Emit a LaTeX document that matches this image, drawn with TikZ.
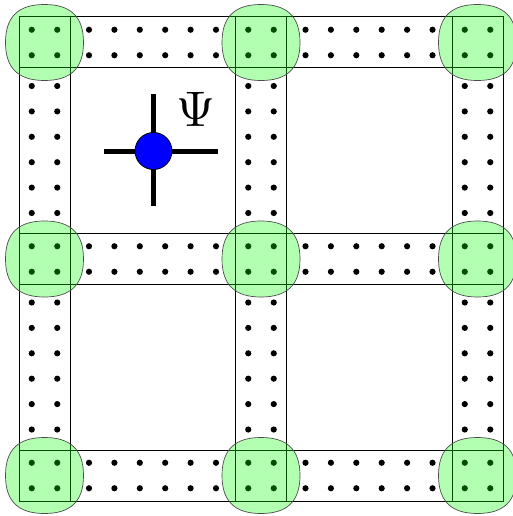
\documentclass[tikz,border=0pt]{standalone}
\usepackage{tikz}
\usetikzlibrary{calc}

\begin{document}
\begin{tikzpicture}[x=1pt, y=-1pt,
  strip/.style={draw=black, line width=1pt},
  site/.style={fill=black},
  blob/.style={fill=green, fill opacity=0.3, draw=black!70, draw opacity=1, line width=0.7pt},
  leg/.style={line width=5pt}]
  \useasboundingbox (0,0) rectangle (513,516);
  % --- strips (rows and columns of the lattice) ---
  \foreach \p in {0,1,2} {
    \draw[strip] (19,{17+216.5*\p}) rectangle (503,{68+216.5*\p});
    \draw[strip] ({19+216.5*\p},17) rectangle ({70+216.5*\p},501);
  }
  % --- dots: 2x2 on each site, 6x2 along each bond ---
  \foreach \c in {0,1,2} {
    \foreach \r in {0,1,2} {
      \pgfmathsetmacro{\X}{19+216.5*\c}
      \pgfmathsetmacro{\Y}{17+216.5*\r}
      \foreach \i in {12.75,38.25} {
        \foreach \j in {12.75,38.25}
          \fill[site] (\X+\i,\Y+\j) circle (3.1);
        \ifnum\c<2
          \foreach \k in {0,...,5}
            \fill[site] ({\X+70+25.4*\k},\Y+\i) circle (3.1);
        \fi
        \ifnum\r<2
          \foreach \k in {0,...,5}
            \fill[site] (\X+\i,{\Y+69+25.4*\k}) circle (3.1);
        \fi
      }
    }
  }
  % --- green blobs over the sites ---
  \foreach \c in {0,1,2} {
    \foreach \r in {0,1,2} {
      \begin{scope}[shift={({44.5+216.5*\c},{42.5+216.5*\r})}]
        \draw[blob] (39,0) .. controls (39,26) and (26,38) .. (0,38)
          .. controls (-26,38) and (-39,26) .. (-39,0)
          .. controls (-39,-26) and (-26,-38) .. (0,-38)
          .. controls (26,-38) and (39,-26) .. (39,0) -- cycle;
      \end{scope}
    }
  }
  % --- tensor Psi ---
  \coordinate (w) at (104,151);
  \coordinate (e) at (218,151);
  \coordinate (n) at (153.5,94);
  \coordinate (s) at (153.5,206);
  \draw[leg] (w) -- (e);
  \draw[leg] (n) -- (s);
  \node[circle, fill=blue, draw=black, line width=0.8pt, minimum size=37pt, inner sep=0pt] (psi) at (153.5,151) {};
  \node (lbl) at (196,109) {\scalebox{5}{$\Psi$}};
\end{tikzpicture}
\end{document}
